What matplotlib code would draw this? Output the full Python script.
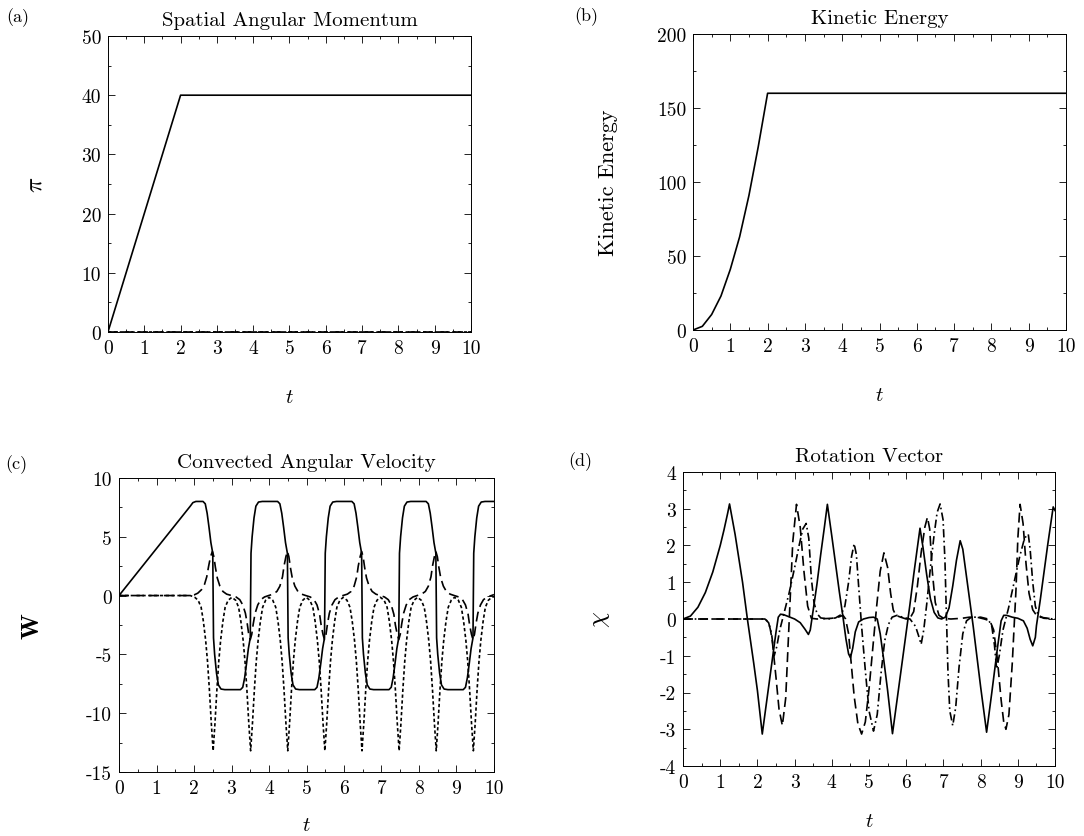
import numpy as np
import matplotlib
matplotlib.use('Agg')
import matplotlib.pyplot as plt
from matplotlib.ticker import MultipleLocator

plt.rcParams['font.family'] = 'cmr10'
plt.rcParams['mathtext.fontset'] = 'cm'
plt.rcParams['axes.unicode_minus'] = False

# (a) spatial angular momentum
t_a = [0, 2, 10]
pi_1 = [0, 40, 40]
pi_23 = [0, 0, 0]

# (b) kinetic energy
t_b = [0, 0.25, 0.5, 0.75, 1.0, 1.25, 1.5, 1.75, 2.0, 10]
ke = [0, 2.5, 10.5, 23, 41, 63, 91, 124, 160, 160]

# (c) convected angular velocity, (t, value)
W1 = np.array([
    [0, 0], [1.9, 7.6], [1.97, 7.9], [2.05, 8.0],
    [2.24, 8.0], [2.30, 7.8], [2.35, 7.0], [2.40, 5.8], [2.45, 4.5], [2.50, 3.6],
    [2.52, -3.6], [2.55, -5.0], [2.60, -6.6], [2.65, -7.6], [2.72, -7.95], [2.82, -8.0],
    [3.24, -8.0], [3.30, -7.8], [3.35, -7.0], [3.40, -5.8], [3.45, -4.5], [3.50, -3.6],
    [3.52, 3.6], [3.55, 5.0], [3.60, 6.6], [3.65, 7.6], [3.72, 7.95], [3.82, 8.0],
    [4.23, 8.0], [4.29, 7.8], [4.34, 7.0], [4.39, 5.8], [4.44, 4.5], [4.49, 3.6],
    [4.51, -3.6], [4.54, -5.0], [4.59, -6.6], [4.64, -7.6], [4.71, -7.95], [4.81, -8.0],
    [5.22, -8.0], [5.28, -7.8], [5.33, -7.0], [5.38, -5.8], [5.43, -4.5], [5.48, -3.6],
    [5.50, 3.6], [5.53, 5.0], [5.58, 6.6], [5.63, 7.6], [5.70, 7.95], [5.80, 8.0],
    [6.21, 8.0], [6.27, 7.8], [6.32, 7.0], [6.37, 5.8], [6.42, 4.5], [6.47, 3.6],
    [6.49, -3.6], [6.52, -5.0], [6.57, -6.6], [6.62, -7.6], [6.69, -7.95], [6.79, -8.0],
    [7.20, -8.0], [7.26, -7.8], [7.31, -7.0], [7.36, -5.8], [7.41, -4.5], [7.46, -3.6],
    [7.48, 3.6], [7.51, 5.0], [7.56, 6.6], [7.61, 7.6], [7.68, 7.95], [7.78, 8.0],
    [8.19, 8.0], [8.25, 7.8], [8.30, 7.0], [8.35, 5.8], [8.40, 4.5], [8.45, 3.6],
    [8.47, -3.6], [8.50, -5.0], [8.55, -6.6], [8.60, -7.6], [8.67, -7.95], [8.77, -8.0],
    [9.18, -8.0], [9.24, -7.8], [9.29, -7.0], [9.34, -5.8], [9.39, -4.5], [9.44, -3.6],
    [9.46, 3.6], [9.49, 5.0], [9.54, 6.6], [9.59, 7.6], [9.66, 7.95], [9.76, 8.0],
    [10.0, 8.0]])

W2 = np.array([
    [0, 0], [1.9, 0.0], [2.0, 0.05], [2.1, 0.2], [2.2, 0.5], [2.28, 0.95], [2.34, 1.6],
    [2.39, 2.5], [2.44, 3.3], [2.49, 3.75], [2.53, 3.3], [2.57, 2.4], [2.62, 1.5],
    [2.69, 0.8], [2.77, 0.35], [2.87, 0.12], [3.0, 0.0],
    [3.12, -0.12], [3.22, -0.35], [3.3, -0.8], [3.37, -1.5], [3.42, -2.4], [3.46, -3.3],
    [3.50, -3.75], [3.54, -3.3], [3.58, -2.4], [3.63, -1.5], [3.70, -0.8], [3.78, -0.35],
    [3.88, -0.12], [3.99, 0.0],
    [4.11, 0.12], [4.21, 0.35], [4.29, 0.8], [4.36, 1.6], [4.40, 2.5], [4.45, 3.3],
    [4.49, 3.75], [4.53, 3.3], [4.57, 2.4], [4.62, 1.5], [4.69, 0.8], [4.77, 0.35],
    [4.87, 0.12], [4.98, 0.0],
    [5.10, -0.12], [5.20, -0.35], [5.28, -0.8], [5.35, -1.6], [5.39, -2.5], [5.44, -3.3],
    [5.48, -3.75], [5.52, -3.3], [5.56, -2.4], [5.61, -1.5], [5.68, -0.8], [5.76, -0.35],
    [5.86, -0.12], [5.97, 0.0],
    [6.09, 0.12], [6.19, 0.35], [6.27, 0.8], [6.34, 1.6], [6.38, 2.5], [6.43, 3.3],
    [6.47, 3.75], [6.51, 3.3], [6.55, 2.4], [6.60, 1.5], [6.67, 0.8], [6.75, 0.35],
    [6.85, 0.12], [6.96, 0.0],
    [7.08, -0.12], [7.18, -0.35], [7.26, -0.8], [7.33, -1.6], [7.37, -2.5], [7.42, -3.3],
    [7.46, -3.75], [7.50, -3.3], [7.54, -2.4], [7.59, -1.5], [7.66, -0.8], [7.74, -0.35],
    [7.84, -0.12], [7.95, 0.0],
    [8.07, 0.12], [8.17, 0.35], [8.25, 0.8], [8.32, 1.6], [8.36, 2.5], [8.41, 3.3],
    [8.45, 3.75], [8.49, 3.3], [8.53, 2.4], [8.58, 1.5], [8.65, 0.8], [8.73, 0.35],
    [8.83, 0.12], [8.94, 0.0],
    [9.06, -0.12], [9.16, -0.35], [9.24, -0.8], [9.31, -1.6], [9.35, -2.5], [9.40, -3.3],
    [9.44, -3.75], [9.48, -3.3], [9.52, -2.4], [9.57, -1.5], [9.64, -0.8], [9.72, -0.35],
    [9.82, -0.12], [9.93, 0.0], [10.0, 0.08]])

W3 = np.array([
    [0, 0], [1.9, 0.0], [2.02, -0.15], [2.11, -0.4], [2.19, -1.0], [2.25, -2.2],
    [2.31, -3.8], [2.36, -5.6], [2.41, -8.0], [2.46, -10.8], [2.51, -13.2],
    [2.56, -10.8], [2.61, -8.0], [2.66, -5.6], [2.71, -3.8], [2.77, -2.2], [2.83, -1.0],
    [2.91, -0.4], [3.01, -0.15],
    [3.11, -0.4], [3.19, -1.0], [3.25, -2.2], [3.31, -3.8], [3.36, -5.6], [3.41, -8.0],
    [3.46, -10.8], [3.51, -13.2], [3.56, -10.8], [3.61, -8.0], [3.66, -5.6], [3.71, -3.8],
    [3.77, -2.2], [3.83, -1.0], [3.91, -0.4], [4.0, -0.15],
    [4.10, -0.4], [4.18, -1.0], [4.24, -2.2], [4.30, -3.8], [4.35, -5.6], [4.40, -8.0],
    [4.45, -10.8], [4.50, -13.2], [4.55, -10.8], [4.60, -8.0], [4.65, -5.6], [4.70, -3.8],
    [4.76, -2.2], [4.82, -1.0], [4.90, -0.4], [4.99, -0.15],
    [5.09, -0.4], [5.17, -1.0], [5.23, -2.2], [5.29, -3.8], [5.34, -5.6], [5.39, -8.0],
    [5.44, -10.8], [5.49, -13.2], [5.54, -10.8], [5.59, -8.0], [5.64, -5.6], [5.69, -3.8],
    [5.75, -2.2], [5.81, -1.0], [5.89, -0.4], [5.98, -0.15],
    [6.08, -0.4], [6.16, -1.0], [6.22, -2.2], [6.28, -3.8], [6.33, -5.6], [6.38, -8.0],
    [6.43, -10.8], [6.48, -13.2], [6.53, -10.8], [6.58, -8.0], [6.63, -5.6], [6.68, -3.8],
    [6.74, -2.2], [6.80, -1.0], [6.88, -0.4], [6.97, -0.15],
    [7.07, -0.4], [7.15, -1.0], [7.21, -2.2], [7.27, -3.8], [7.32, -5.6], [7.37, -8.0],
    [7.42, -10.8], [7.47, -13.2], [7.52, -10.8], [7.57, -8.0], [7.62, -5.6], [7.67, -3.8],
    [7.73, -2.2], [7.79, -1.0], [7.87, -0.4], [7.96, -0.15],
    [8.06, -0.4], [8.14, -1.0], [8.20, -2.2], [8.26, -3.8], [8.31, -5.6], [8.36, -8.0],
    [8.41, -10.8], [8.46, -13.2], [8.51, -10.8], [8.56, -8.0], [8.61, -5.6], [8.66, -3.8],
    [8.72, -2.2], [8.78, -1.0], [8.86, -0.4], [8.95, -0.15],
    [9.05, -0.4], [9.13, -1.0], [9.19, -2.2], [9.25, -3.8], [9.30, -5.6], [9.35, -8.0],
    [9.40, -10.8], [9.45, -13.2], [9.50, -10.8], [9.55, -8.0], [9.60, -5.6], [9.65, -3.8],
    [9.71, -2.2], [9.77, -1.0], [9.85, -0.4], [9.94, -0.15], [10.0, -0.1]])

# (d) rotation vector
chi1 = np.array([
    [0, 0], [0.2, 0.08], [0.4, 0.32], [0.6, 0.72], [0.8, 1.28], [1.0, 2.0], [1.1, 2.42],
    [1.2, 2.88], [1.25, 3.13], [1.4, 2.3], [1.6, 1.0], [1.73, 0.0], [1.9, -1.2],
    [2.0, -1.95], [2.13, -3.13], [2.2, -2.6], [2.3, -1.85], [2.4, -1.1], [2.5, -0.35],
    [2.56, 0.05], [2.62, 0.13], [2.7, 0.12], [2.85, 0.06], [3.0, 0.0], [3.15, -0.1],
    [3.28, -0.28], [3.37, -0.42], [3.42, -0.3], [3.5, 0.25], [3.6, 0.95], [3.7, 1.75],
    [3.8, 2.5], [3.88, 3.12], [4.0, 2.25], [4.1, 1.5], [4.2, 0.75], [4.3, 0.05],
    [4.38, -0.55], [4.45, -0.95], [4.5, -1.05], [4.56, -0.8], [4.63, -0.35], [4.72, -0.08],
    [4.85, 0.0], [5.0, 0.04], [5.12, 0.05], [5.22, 0.0], [5.3, -0.4], [5.4, -1.15],
    [5.5, -1.95], [5.63, -3.12], [5.8, -1.85], [6.0, -0.35], [6.1, 0.4], [6.2, 1.2],
    [6.3, 1.95], [6.37, 2.47], [6.45, 1.95], [6.55, 1.2], [6.65, 0.55], [6.75, 0.18],
    [6.85, 0.03], [6.95, 0.0], [7.05, 0.05], [7.15, 0.3], [7.25, 0.9], [7.35, 1.6],
    [7.45, 2.13], [7.52, 1.9], [7.6, 1.3], [7.8, -0.2], [8.0, -1.85], [8.16, -3.08],
    [8.3, -2.0], [8.45, -0.8], [8.55, -0.05], [8.62, 0.1], [8.7, 0.1], [8.85, 0.05],
    [9.0, 0.02], [9.15, -0.05], [9.25, -0.25], [9.33, -0.55], [9.4, -0.73], [9.47, -0.5],
    [9.5, -0.18], [9.6, 0.5], [9.7, 1.25], [9.8, 2.0], [9.9, 2.7], [9.95, 3.05],
    [10.0, 2.95]])

chi2 = np.array([
    [0, 0], [2.2, 0.0], [2.3, -0.08], [2.35, -0.3], [2.4, -0.6], [2.5, -1.6],
    [2.58, -2.45], [2.67, -2.9], [2.76, -2.15], [2.86, 0.1], [2.95, 2.1], [3.05, 3.12],
    [3.15, 2.5], [3.25, 1.3], [3.35, 0.35], [3.45, 0.02], [3.6, 0.0], [4.0, 0.02],
    [4.2, 0.06], [4.3, 0.1], [4.37, 0.0], [4.45, -0.4], [4.52, -1.2], [4.6, -2.1],
    [4.7, -2.85], [4.8, -3.13], [4.9, -2.8], [5.0, -1.9], [5.1, -0.8], [5.2, 0.3],
    [5.3, 1.3], [5.4, 1.8], [5.5, 1.4], [5.58, 0.7], [5.65, 0.25], [5.72, 0.1],
    [5.85, 0.05], [6.0, 0.0], [6.1, 0.02], [6.2, 0.2], [6.3, 0.9], [6.4, 1.8],
    [6.5, 2.5], [6.57, 2.77], [6.63, 2.45], [6.7, 1.3], [6.78, 0.45], [6.88, 0.1],
    [7.0, 0.02], [7.2, 0.0], [7.5, 0.02], [7.7, 0.05], [7.9, 0.05], [8.1, 0.0],
    [8.25, -0.05], [8.35, -0.3], [8.45, -1.1], [8.55, -2.2], [8.62, -2.8], [8.68, -3.0],
    [8.76, -2.6], [8.85, -1.2], [8.95, 0.8], [9.0, 2.2], [9.06, 3.12], [9.14, 2.6],
    [9.22, 1.5], [9.3, 0.7], [9.4, 0.25], [9.5, 0.1], [9.6, 0.05], [9.8, 0.02],
    [10.0, 0.0]])

chi3 = np.array([
    [0, 0], [2.2, 0.0], [2.3, -0.1], [2.38, -0.4], [2.45, -1.0], [2.52, -0.75],
    [2.6, -0.3], [2.7, 0.1], [2.85, 0.7], [3.0, 1.4], [3.12, 2.0], [3.22, 2.45],
    [3.31, 2.6], [3.38, 2.2], [3.45, 1.1], [3.52, 0.45], [3.6, 0.15], [3.7, 0.03],
    [3.9, 0.0], [4.1, 0.03], [4.25, 0.12], [4.35, 0.35], [4.45, 1.0], [4.53, 1.7],
    [4.6, 2.05], [4.66, 1.75], [4.72, 0.9], [4.8, -0.2], [4.9, -1.4], [5.0, -2.5],
    [5.12, -3.05], [5.22, -2.6], [5.32, -1.5], [5.42, -0.6], [5.52, -0.15], [5.62, 0.05],
    [5.75, 0.1], [5.9, 0.05], [6.1, 0.0], [6.25, -0.2], [6.33, -0.45], [6.4, -0.69],
    [6.47, -0.3], [6.55, 0.4], [6.65, 1.4], [6.75, 2.3], [6.83, 2.9], [6.91, 3.13],
    [6.99, 2.7], [7.04, 1.6], [7.08, 0.1], [7.12, -1.4], [7.17, -2.5], [7.25, -2.9],
    [7.33, -2.4], [7.42, -1.3], [7.52, -0.4], [7.62, -0.05], [7.75, 0.05], [8.0, 0.05],
    [8.2, 0.0], [8.3, -0.2], [8.37, -0.7], [8.43, -1.36], [8.5, -1.0], [8.6, -0.3],
    [8.75, 0.3], [8.9, 1.0], [9.05, 1.7], [9.18, 2.2], [9.28, 2.31], [9.33, 1.9],
    [9.4, 1.0], [9.47, 0.35], [9.55, 0.1], [9.7, 0.02], [10.0, 0.0]])

long_dash = (0, (6, 3))
short_dash = (0, (2, 1.5))
dash_dot = (0, (5, 2, 1, 2))

fig = plt.figure(figsize=(10.84, 8.37), dpi=100)
ax_a = fig.add_axes([0.0996, 0.6022, 0.3349, 0.3536])
ax_b = fig.add_axes([0.6393, 0.6045, 0.3441, 0.3536])
ax_c = fig.add_axes([0.1098, 0.0765, 0.3459, 0.3513])
ax_d = fig.add_axes([0.6301, 0.0836, 0.3432, 0.3513])

lw = 1.2
ax_a.plot(t_a, pi_23, color='k', lw=lw, ls=long_dash)
ax_a.plot(t_a, pi_23, color='k', lw=lw, ls=short_dash)
ax_a.plot(t_a, pi_1, color='k', lw=lw)

ax_b.plot(t_b, ke, color='k', lw=lw)

ax_c.plot(W1[:, 0], W1[:, 1], color='k', lw=lw)
ax_c.plot(W2[:, 0], W2[:, 1], color='k', lw=lw, ls=long_dash)
ax_c.plot(W3[:, 0], W3[:, 1], color='k', lw=lw, ls=short_dash)

ax_d.plot(chi1[:, 0], chi1[:, 1], color='k', lw=lw)
ax_d.plot(chi2[:, 0], chi2[:, 1], color='k', lw=lw, ls=long_dash)
ax_d.plot(chi3[:, 0], chi3[:, 1], color='k', lw=lw, ls=dash_dot)

setup = [
    (ax_a, 'Spatial Angular Momentum', r'$\pi$', (0, 50), 10, 5, -0.17, -0.19),
    (ax_b, 'Kinetic Energy', 'Kinetic Energy', (0, 200), 50, 25, -0.20, -0.19),
    (ax_c, 'Convected Angular Velocity', r'$\mathbf{W}$', (-15, 10), 5, 2.5, -0.20, -0.15),
    (ax_d, 'Rotation Vector', r'$\chi$', (-4, 4), 1, 0.5, -0.19, -0.155),
]
for ax, title, ylab, ylim, major, minor, ylx, xly in setup:
    ax.set_xlim(0, 10)
    ax.set_ylim(*ylim)
    ax.xaxis.set_major_locator(MultipleLocator(1))
    ax.xaxis.set_minor_locator(MultipleLocator(0.5))
    ax.yaxis.set_major_locator(MultipleLocator(major))
    ax.yaxis.set_minor_locator(MultipleLocator(minor))
    ax.tick_params(which='both', direction='in', top=True, right=True,
                   labelsize=14, width=0.6, pad=5)
    ax.tick_params(which='major', length=5)
    ax.tick_params(which='minor', length=2.5)
    for sp in ax.spines.values():
        sp.set_linewidth(0.7)
    ax.set_title(title, fontsize=15, pad=8)
    ax.set_xlabel(r'$t$', fontsize=15)
    ax.xaxis.set_label_coords(0.5, xly)
    ax.set_ylabel(ylab, fontsize=18 if ylab != 'Kinetic Energy' else 16)
    ax.yaxis.set_label_coords(ylx, 0.5)

fig.text(0.006, 1 - 18 / 837, '(a)', fontsize=13, va='center')
fig.text(0.530, 1 - 17 / 837, '(b)', fontsize=13, va='center')
fig.text(0.005, 1 - 465 / 837, '(c)', fontsize=13, va='center')
fig.text(0.524, 1 - 462 / 837, '(d)', fontsize=13, va='center')

fig.savefig('out.png', dpi=100)
